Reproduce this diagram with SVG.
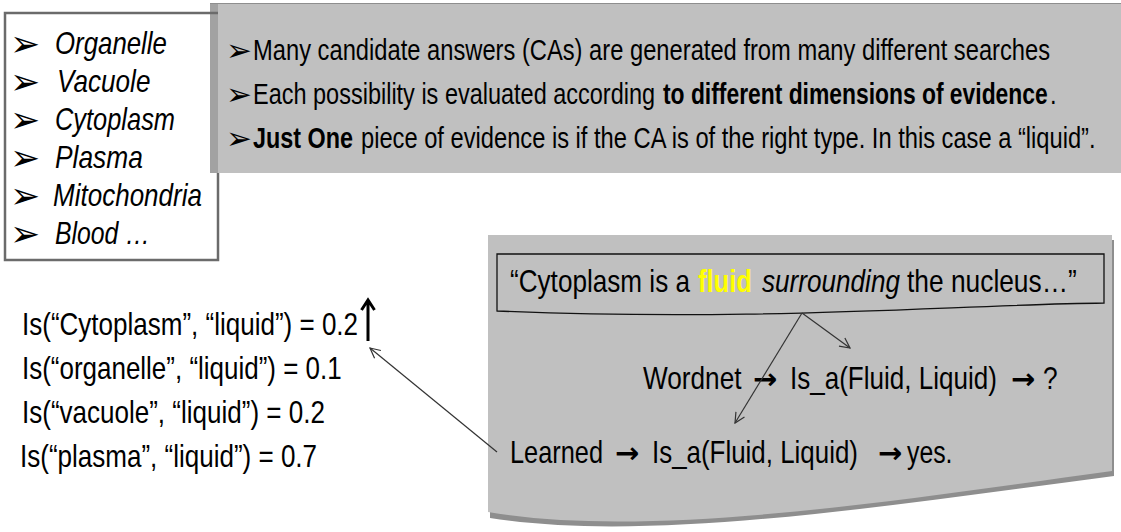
<svg xmlns="http://www.w3.org/2000/svg" width="1121" height="532" viewBox="0 0 1121 532">
<style>
.n{font-family:"Liberation Sans",Arial,sans-serif;fill:#000}
.b{font-weight:bold}
.i{font-style:italic}
.t30{font-size:30px}
.t31{font-size:31px}
.t32{font-size:32px}
.bul{font-family:"DejaVu Sans",sans-serif;fill:#000}
.arr{font-family:"DejaVu Sans",sans-serif;font-weight:bold;fill:#000;font-size:29px}
.conn{fill:none;stroke:#333;stroke-width:1.2}
</style>
<defs>
<marker id="open" viewBox="0 0 12 12" refX="11" refY="6" markerWidth="12" markerHeight="12" markerUnits="userSpaceOnUse" orient="auto"><path d="M1,1 L11,6 L1,11" fill="none" stroke="#333" stroke-width="1.2"/></marker>
</defs>
<rect width="1121" height="532" fill="#fff"/>

<g id="evidence-box">
<rect x="210" y="3" width="911" height="170" fill="#c0c0c0"/>
<rect x="210" y="3" width="8" height="170" fill="#a2a2a2"/>
<line x1="210" y1="3.5" x2="1121" y2="3.5" stroke="#8e8e8e" stroke-width="1"/>
<text class="bul" x="226" y="61" font-size="31">➢</text>
<text class="n t30" transform="translate(253,60) scale(0.791,1)">Many candidate answers (CAs) are generated from many different searches</text>
<text class="bul" x="226" y="105" font-size="31">➢</text>
<text class="n t30" transform="translate(253,104) scale(0.783,1)">Each possibility is evaluated according</text>
<text class="n t30 b" transform="translate(663,104) scale(0.762,1)">to different dimensions of evidence</text>
<text class="n t30" transform="translate(1050,104) scale(0.79,1)">.</text>
<text class="bul" x="226" y="149" font-size="31">➢</text>
<text class="n t30 b" transform="translate(253,148) scale(0.779,1)">Just One</text>
<text class="n t30" transform="translate(361,148) scale(0.79,1)">piece of evidence is if the CA is of the right type. In this case a “liquid”.</text>
</g>

<g id="candidates">
<path d="M218,13 H5 V260 H218 V173" fill="none" stroke="#6b6b6b" stroke-width="2.5"/>
<text class="bul" x="10" y="56" font-size="36">➢</text>
<text class="n t31 i" transform="translate(55,54) scale(0.833,1)">Organelle</text>
<text class="bul" x="10" y="94" font-size="36">➢</text>
<text class="n t31 i" transform="translate(57,92) scale(0.843,1)">Vacuole</text>
<text class="bul" x="10" y="132" font-size="36">➢</text>
<text class="n t31 i" transform="translate(55,130) scale(0.82,1)">Cytoplasm</text>
<text class="bul" x="10" y="170" font-size="36">➢</text>
<text class="n t31 i" transform="translate(55,168) scale(0.85,1)">Plasma</text>
<text class="bul" x="10" y="208" font-size="36">➢</text>
<text class="n t31 i" transform="translate(53,206) scale(0.84,1)">Mitochondria</text>
<text class="bul" x="10" y="246" font-size="36">➢</text>
<text class="n t31 i" transform="translate(55,244) scale(0.8,1)">Blood …</text>
</g>

<g id="scores">
<text class="n t32" transform="translate(22,335) scale(0.813,1)">Is(“Cytoplasm”, “liquid”) = 0.2</text>
<text class="n t32" transform="translate(22,379) scale(0.812,1)">Is(“organelle”, “liquid”) = 0.1</text>
<text class="n t32" transform="translate(22,423) scale(0.813,1)">Is(“vacuole”, “liquid”) = 0.2</text>
<text class="n t32" transform="translate(20,467) scale(0.813,1)">Is(“plasma”, “liquid”) = 0.7</text>
<path d="M368,341 V301 M361.5,310 L368,300 L374.5,310" fill="none" stroke="#000" stroke-width="3"/>
</g>

<g id="passage-box">
<path d="M490,240 H1114 V476 C900,504 650,544 490,518 Z" fill="#8e8e8e"/>
<path d="M488,235 H1112 V471 C900,500 650,540 488,512 Z" fill="#c0c0c0"/>
<g id="quote">
<path d="M497,254 H1104 V303 C950,305 760,322 497,311 Z" fill="#c0c0c0" stroke="#111" stroke-width="1.3"/>
<text class="n t31" transform="translate(510,292) scale(0.843,1)">“Cytoplasm is a</text>
<text class="n t31 b" style="fill:#ffff00" transform="translate(698,292) scale(0.825,1)">fluid</text>
<text class="n t31 i" transform="translate(762,292) scale(0.843,1)">surrounding</text>
<text class="n t31" transform="translate(907,292) scale(0.85,1)">the nucleus…”</text>
</g>
<g id="wordnet">
<text class="n t31" transform="translate(643,389) scale(0.845,1)">Wordnet</text>
<text class="arr" x="753" y="389">→</text>
<text class="n t31" transform="translate(790,389) scale(0.84,1)">Is_a(Fluid, Liquid)</text>
<text class="arr" x="1011" y="389">→</text>
<text class="n t31" transform="translate(1043,389) scale(0.85,1)">?</text>
</g>
<g id="learned">
<text class="n t31" transform="translate(510,463) scale(0.818,1)">Learned</text>
<text class="arr" x="615" y="463">→</text>
<text class="n t31" transform="translate(652,463) scale(0.836,1)">Is_a(Fluid, Liquid)</text>
<text class="arr" x="878" y="463">→</text>
<text class="n t31" transform="translate(907,463) scale(0.8,1)">yes.</text>
</g>
</g>

<g id="connectors">
<line class="conn" x1="802" y1="313" x2="850" y2="348" marker-end="url(#open)"/>
<line class="conn" x1="802" y1="313" x2="735" y2="423" marker-end="url(#open)"/>
<line class="conn" x1="497" y1="452" x2="370" y2="348" marker-end="url(#open)"/>
</g>
</svg>
